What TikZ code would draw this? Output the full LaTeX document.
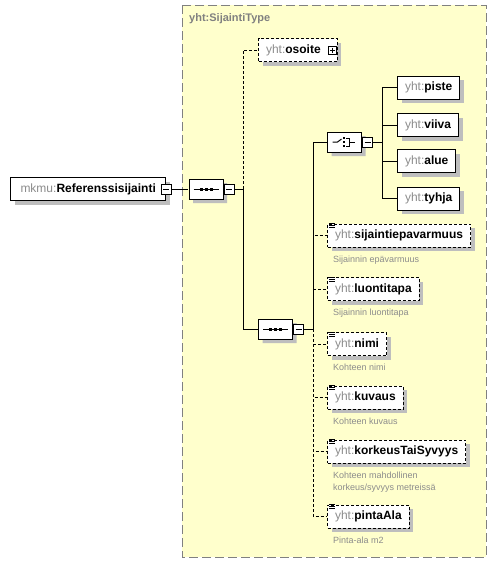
\documentclass[tikz,border=0pt]{standalone}
\usepackage{fontspec}
\setmainfont{Liberation Sans}
\usetikzlibrary{shapes.misc, calc}

\definecolor{typebg}{RGB}{255,255,204}
\definecolor{typeline}{RGB}{128,128,128}
\definecolor{shadowgray}{RGB}{190,190,190}
\definecolor{nsgray}{RGB}{140,140,140}
\definecolor{notegray}{RGB}{140,140,140}

\newcommand{\qn}[2]{\textcolor{nsgray}{#1:}\textbf{#2}}

\tikzset{
	elem/.style={draw, fill=white, line width=1pt, minimum height=23pt, inner xsep=7.5pt, inner ysep=0pt, anchor=west, font=\fontsize{12}{14}\selectfont},
	optelem/.style={elem, dash pattern=on 3pt off 2pt},
	elemshadow/.style={elem, draw=none, fill=shadowgray, xshift=4pt, yshift=-4pt},
	group/.style={chamfered rectangle, chamfered rectangle xsep=5pt, draw, fill=white, line width=1pt, minimum width=34pt, minimum height=20pt, inner sep=0pt},
	groupshadow/.style={group, draw=none, fill=shadowgray, xshift=4pt, yshift=-4pt},
	toggle/.style={draw, fill=white, line width=1pt, minimum size=10pt, inner sep=0pt},
	minus/.style={toggle, path picture={\draw[line width=1pt] ([xshift=2pt]path picture bounding box.west) -- ([xshift=-2pt]path picture bounding box.east);}},
	plus/.style={toggle, minimum size=8pt, path picture={\draw[line width=1pt] ([xshift=1.5pt]path picture bounding box.west) -- ([xshift=-1.5pt]path picture bounding box.east) ([yshift=-1.5pt]path picture bounding box.north) -- ([yshift=1.5pt]path picture bounding box.south);}},
	note/.style={anchor=north west, inner sep=0pt, align=left, font=\fontsize{9}{12}\selectfont, text=notegray},
	conn/.style={line width=1pt},
	optconn/.style={conn, dash pattern=on 3pt off 2pt},
	icon/.style={line width=0.8pt}
}

\begin{document}
\begin{tikzpicture}[x=1pt, y=-1pt]
	\def\xOPT{327};
	\def\xALT{397};

	\useasboundingbox (0,0) rectangle (496,563);

	\draw [typeline, fill=typebg, line width=1pt, dash pattern=on 9pt off 4pt] (182,5) rectangle (486,557);
	\node [anchor=west, inner sep=0pt, text=typeline, font=\fontsize{11}{13}\selectfont\bfseries] (typename) at (189,19) {yht:SijaintiType};

	\node [elemshadow, inner xsep=10pt] at (10,189) {\phantom{\qn{mkmu}{Referenssisijainti}}};
	\node [elem, inner xsep=10pt] (root) at (10,189) {\qn{mkmu}{Referenssisijainti}};
	\node [minus] (rootT) at (root.east) {};

	\node [groupshadow] at (206,189) {};
	\node [group] (seq1) at (206,189) {};
	\node [minus, anchor=west] (seq1T) at (seq1.east) {};
	\draw [conn] ([xshift=5pt]seq1.west) -- ([xshift=-5pt]seq1.east);
	\foreach \d in {-5,0,5}
		\fill ([xshift=\d pt]seq1.center) ++(-1.5pt,-1.5pt) rectangle ++(3pt,3pt);

	\node [elemshadow] at (258,50) {\phantom{\qn{yht}{osoite}}\hspace{9pt}\mbox{}};
	\node [optelem] (osoite) at (258,50) {\qn{yht}{osoite}\hspace{9pt}\mbox{}};
	\node [plus] (osoiteT) at ([xshift=-5pt]osoite.east) {};

	\node [groupshadow] at (275.5,329) {};
	\node [group] (seq2) at (275.5,329) {};
	\node [minus, anchor=west] (seq2T) at (seq2.east) {};
	\draw [conn] ([xshift=5pt]seq2.west) -- ([xshift=-5pt]seq2.east);
	\foreach \d in {-5,0,5}
		\fill ([xshift=\d pt]seq2.center) ++(-1.5pt,-1.5pt) rectangle ++(3pt,3pt);

	\node [groupshadow] at (344.5,142) {};
	\node [group] (choice) at (344.5,142) {};
	\node [minus, anchor=west] (choiceT) at (choice.east) {};
	\draw [conn] ([xshift=-12pt]choice.center) -- ([xshift=-7pt]choice.center) -- ([xshift=-3pt,yshift=3pt]choice.center);
	\foreach \d in {-4,0,4}
		\fill ([xshift=-0.5pt,yshift=\d pt]choice.center) ++(-1.3pt,-1.3pt) rectangle ++(2.6pt,2.6pt);
	\draw [conn] ([xshift=1.5pt,yshift=4pt]choice.center) -- ++(3pt,0) -- ++(0,-8pt) -- ++(-3pt,0);
	\draw [conn] ([xshift=4.5pt]choice.center) -- ([xshift=10pt]choice.center);

	\foreach \n/\y in {piste/87.5, viiva/125, alue/161, tyhja/198.5} {
		\node [elemshadow] at (\xALT,\y) {\phantom{\qn{yht}{\n}}};
		\node [elem] (\n) at (\xALT,\y) {\qn{yht}{\n}};
	}

	\foreach \n/\y in {sijaintiepavarmuus/235.5, luontitapa/289, nimi/344, kuvaus/397.5, korkeusTaiSyvyys/451.5, pintaAla/516.5} {
		\node [elemshadow] at (\xOPT,\y) {\phantom{\qn{yht}{\n}}};
		\node [optelem] (\n) at (\xOPT,\y) {\qn{yht}{\n}};
		\foreach \d in {0,2,4}
			\draw [icon] ([xshift=2pt,yshift=-\d pt]\n.north west) -- ++(6pt,0);
	}

	\node [note] at ([xshift=6pt,yshift=-8pt]sijaintiepavarmuus.south west) {Sijainnin epävarmuus};
	\node [note] at ([xshift=6pt,yshift=-8pt]luontitapa.south west) {Sijainnin luontitapa};
	\node [note] at ([xshift=6pt,yshift=-8pt]nimi.south west) {Kohteen nimi};
	\node [note] at ([xshift=6pt,yshift=-8pt]kuvaus.south west) {Kohteen kuvaus};
	\node [note] at ([xshift=6pt,yshift=-8pt]korkeusTaiSyvyys.south west) {Kohteen mahdollinen\\korkeus/syvyys metreissä};
	\node [note] at ([xshift=6pt,yshift=-8pt]pintaAla.south west) {Pinta-ala m2};

	\coordinate (bus1) at (243,189);
	\coordinate (bus2) at (313,329);
	\coordinate (bus3) at (382,142);

	\draw [conn] (rootT) -- (seq1);
	\draw [conn] (seq1T) -- (bus1);
	\draw [optconn] (bus1) |- (osoite);
	\draw [conn] (bus1) |- (seq2);
	\draw [conn] (seq2T) -- (bus2);
	\draw [conn] (bus2) |- (choice);
	\draw [conn] (choiceT) -- (bus3);
	\foreach \n in {piste, viiva, alue, tyhja}
		\draw [conn] (bus3) |- (\n);
	\foreach \n in {sijaintiepavarmuus, luontitapa, nimi, kuvaus, korkeusTaiSyvyys, pintaAla}
		\draw [optconn] (bus2) |- (\n);
\end{tikzpicture}
\end{document}
